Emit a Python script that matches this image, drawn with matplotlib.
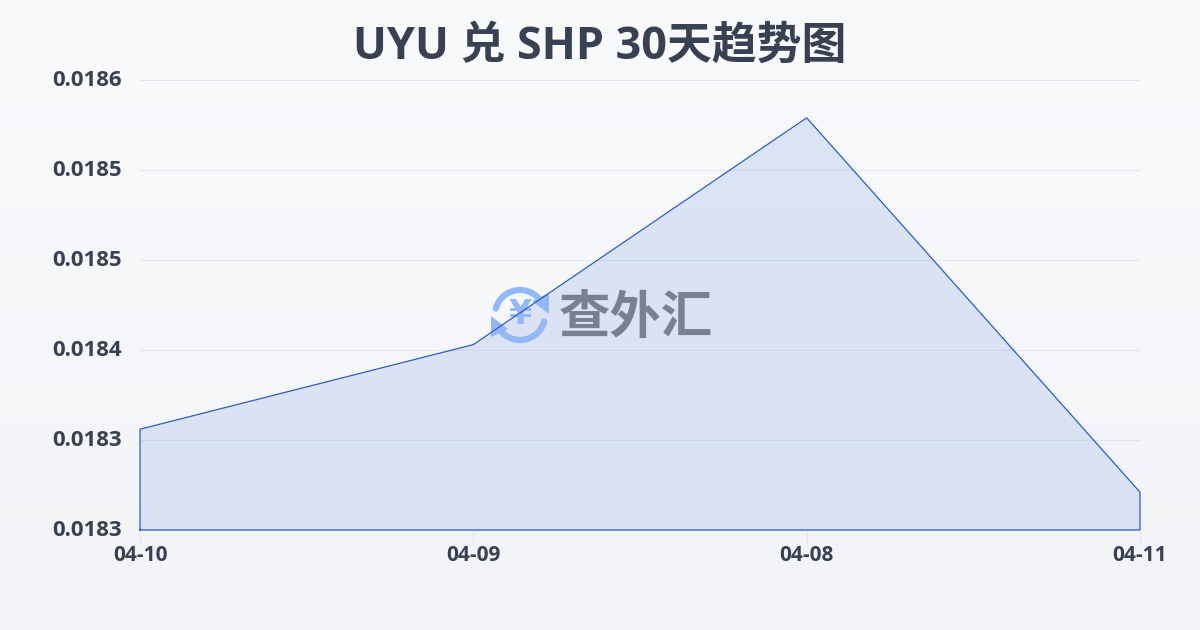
import numpy as np
import matplotlib
matplotlib.use("Agg")
import matplotlib.pyplot as plt
from matplotlib.patches import Arc, Polygon
from matplotlib.transforms import ScaledTranslation

plt.rcParams['font.family'] = ['Open Sans', 'Noto Sans CJK SC', 'DejaVu Sans']

title = "UYU 兑 SHP 30天趋势图"
dates = ["04-10", "04-09", "04-08", "04-11"]
rates = [0.018356, 0.018403, 0.018529, 0.018321]
y_ticks = [0.0183, 0.01835, 0.0184, 0.01845, 0.0185, 0.01855]
y_labels = ["0.0183", "0.0183", "0.0184", "0.0185", "0.0185", "0.0186"]
W, H = 1200, 630
TEXT = "#374151"
LINE = "#2a5cc4"

fig = plt.figure(figsize=(12, 6.3), dpi=100)
bg = fig.add_axes([0, 0, 1, 1], zorder=0)
grad = np.linspace(0, 1, 256)[:, None, None]
top = np.array([0xf9, 0xfa, 0xfc]) / 255
bottom = np.array([0xf3, 0xf4, 0xf7]) / 255
bg.imshow(top + (bottom - top) * grad, aspect="auto", extent=[0, 1, 0, 1])
bg.axis("off")

ax = fig.add_axes([140 / W, 1 - 530 / H, 1000 / W, 450 / H], zorder=1)
ax.patch.set_alpha(0)
x = np.arange(len(dates))
ax.set_xlim(0, len(dates) - 1)
ax.set_ylim(y_ticks[0], y_ticks[-1])
ax.set_yticks(y_ticks, y_labels)
ax.set_xticks(x, dates)
ax.grid(axis="y", color="#d5dae2", lw=0.7, alpha=0.6, zorder=1)
ax.set_axisbelow(True)
for s in ax.spines.values():
    s.set_visible(False)
ax.tick_params(axis="y", length=0, pad=13, labelsize=16, labelcolor=TEXT)
ax.tick_params(axis="x", length=10, width=0.8, color="#e3e6ea", pad=0.5, labelsize=15, labelcolor=TEXT)
up = ScaledTranslation(0, 2 / 100, fig.dpi_scale_trans)
for t in ax.get_xticklabels() + ax.get_yticklabels():
    t.set_fontweight("bold")
for t in ax.get_yticklabels():
    t.set_transform(t.get_transform() + up)
ax.fill_between(x, rates, y_ticks[0], color="#2563d8", alpha=0.13, lw=0, zorder=2)

# watermark, pixel coordinates, between the fill and the line
wm = fig.add_axes([0, 0, 1, 1], zorder=2)
wm.set_xlim(0, W)
wm.set_ylim(H, 0)
wm.axis("off")
wm.patch.set_alpha(0)
BLUE = "#93b8f8"
wm.add_patch(Arc((520, 315), 50, 50, theta1=195, theta2=320, lw=4.5, color=BLUE, capstyle="round"))
wm.add_patch(Arc((520, 315), 50, 50, theta1=15, theta2=140, lw=4.5, color=BLUE, capstyle="round"))
wm.add_patch(Polygon([[491, 316], [491, 337], [508, 329]], color=BLUE, lw=0))
wm.add_patch(Polygon([[549, 314], [549, 293], [532, 301]], color=BLUE, lw=0))
wm.text(520, 314, "¥", ha="center", va="center", fontsize=24, fontweight="bold", color=BLUE, family="DejaVu Sans")
wm.text(636, 318, "查外汇", ha="center", va="center", fontsize=37, fontweight="bold", color="#798090",
        family="Noto Sans CJK SC")

# series line on top
top_ax = fig.add_axes(ax.get_position(), zorder=3)
top_ax.patch.set_alpha(0)
top_ax.set_xlim(ax.get_xlim())
top_ax.set_ylim(ax.get_ylim())
top_ax.axis("off")
top_ax.plot(np.r_[x[0], x, x[-1], x[0]], np.r_[y_ticks[0], rates, y_ticks[0], y_ticks[0]],
            color=LINE, lw=0.9, clip_on=False, solid_joinstyle="miter")

fig.text(0.5, 1 - 47 / H, title, ha="center", va="center", fontsize=32.3, fontweight="bold", color=TEXT)
fig.savefig("out.png", dpi=100)
